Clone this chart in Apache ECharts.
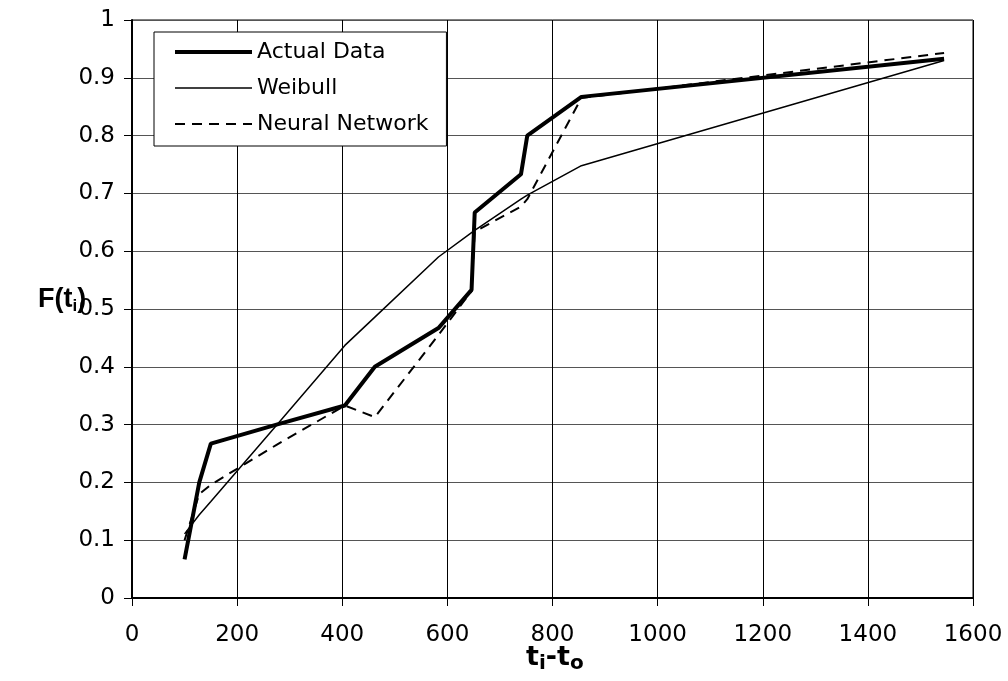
<!DOCTYPE html>
<html>
<head>
<meta charset="utf-8">
<script src="https://cdn.jsdelivr.net/npm/echarts@6/dist/echarts.min.js"></script>
<style>
html,body{margin:0;padding:0;background:#fff;}
#chart{width:1008px;height:681px;}
</style>
</head>
<body>
<div id="chart"></div>
<script>
// Data
var timeValues = [100, 128, 150, 275, 405, 462, 583, 646, 652, 740, 752, 855, 1545];
var actualData = [0.067, 0.200, 0.267, 0.300, 0.333, 0.400, 0.467, 0.533, 0.667, 0.733, 0.800, 0.867, 0.933];
var weibullData = [0.111, 0.144, 0.167, 0.299, 0.437, 0.486, 0.590, 0.632, 0.636, 0.690, 0.697, 0.748, 0.930];
var neuralData = [0.100, 0.180, 0.196, 0.265, 0.333, 0.313, 0.455, 0.531, 0.634, 0.677, 0.690, 0.865, 0.943];
var seriesNames = ['Actual Data', 'Weibull', 'Neural Network'];
var xTicks = {min: 0, max: 1600, interval: 200};
var yTicks = {min: 0, max: 1, interval: 0.1};

function pairs(ys) {
  return timeValues.map(function (x, i) { return [x, ys[i]]; });
}

var FONT = '"DejaVu Sans", sans-serif';
var TFONT = '"Liberation Sans", Arial, sans-serif';
var lineWidths = [4, 1.5, 2];
var lineTypes = ['solid', 'solid', [10, 7]];

var chart = echarts.init(document.getElementById('chart'));
chart.setOption({
  animation: false,
  backgroundColor: '#ffffff',
  color: ['#000', '#000', '#000'],
  grid: {
    left: 132, right: 35, top: 20, bottom: 83,
    show: true, borderColor: '#000', borderWidth: 1, backgroundColor: 'transparent'
  },
  legend: {
    orient: 'vertical',
    left: 154, top: 32,
    padding: [9, 18, 11, 19],
    itemWidth: 77, itemHeight: 14, itemGap: 14,
    backgroundColor: '#fff',
    borderColor: '#000', borderWidth: 1, borderRadius: 0,
    itemStyle: {opacity: 0},
    textStyle: {fontFamily: FONT, fontSize: 22, color: '#000'},
    data: seriesNames.map(function (n, i) {
      return {name: n, itemStyle: {opacity: 0},
        lineStyle: {color: '#000', width: lineWidths[i], type: lineTypes[i]}};
    })
  },
  xAxis: {
    type: 'value', min: xTicks.min, max: xTicks.max, interval: xTicks.interval,
    axisLine: {show: true, lineStyle: {color: '#000', width: 2}},
    axisTick: {show: true, inside: false, length: 8, lineStyle: {color: '#000', width: 1}},
    axisLabel: {fontFamily: FONT, fontSize: 23, color: '#000', margin: 26,
      formatter: function (v) { return String(v); }},
    splitLine: {show: true, lineStyle: {color: '#000', width: 1}}
  },
  yAxis: {
    type: 'value', min: yTicks.min, max: yTicks.max, interval: yTicks.interval,
    axisLine: {show: true, lineStyle: {color: '#000', width: 2}},
    axisTick: {show: true, inside: false, length: 8, lineStyle: {color: '#000', width: 1}},
    axisLabel: {fontFamily: FONT, fontSize: 23, color: '#000', margin: 17,
      formatter: function (v) { return String(Math.round(v * 10) / 10); }},
    splitLine: {show: true, lineStyle: {color: '#555', width: 1}}
  },
  series: seriesNames.map(function (n, i) {
    return {
      name: n, type: 'line', data: pairs([actualData, weibullData, neuralData][i]),
      showSymbol: false, symbol: 'none', z: 5 - i,
      itemStyle: {color: '#000'},
      lineStyle: {color: '#000', width: lineWidths[i], type: lineTypes[i]}
    };
  }),
  graphic: [
    {
      type: 'text', left: 38, top: 286,
      style: {
        text: '{b|F(t}{s|i}{b|)}',
        rich: {
          b: {fontFamily: TFONT, fontSize: 27, fontWeight: 'bold', fill: '#000', color: '#000'},
          s: {fontFamily: TFONT, fontSize: 17, fontWeight: 'bold', fill: '#000', color: '#000', padding: [13, 0, 0, 0]}
        }
      }
    },
    {
      type: 'text', left: 526, top: 644,
      style: {
        text: '{b|t}{s|i}{b|-t}{s|o}',
        rich: {
          b: {fontFamily: FONT, fontSize: 27, fontWeight: 'bold', fill: '#000', color: '#000'},
          s: {fontFamily: FONT, fontSize: 20, fontWeight: 'bold', fill: '#000', color: '#000', padding: [12, 0, 0, 0]}
        }
      }
    }
  ]
});
</script>
</body>
</html>
